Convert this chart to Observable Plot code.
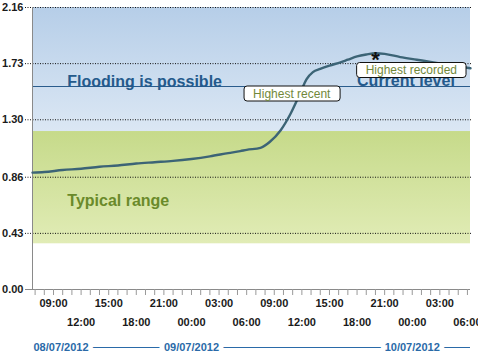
<!DOCTYPE html>
<html>
<head>
<meta charset="utf-8">
<script src="https://cdn.jsdelivr.net/npm/d3@7"></script>
<script src="https://cdn.jsdelivr.net/npm/@observablehq/plot@0.6"></script>
<style>
  html, body { margin: 0; padding: 0; background: #fff; }
  #chart svg { display: block; background: linear-gradient(to right, #ffffff 470px, #e8ecf0 470px); }
</style>
</head>
<body>
<div id="chart"></div>
<script>
// ---- data ----
const levelTimes = [
  "2012-07-08T06:43","2012-07-08T08:00","2012-07-08T10:00","2012-07-08T12:00","2012-07-08T14:00",
  "2012-07-08T16:00","2012-07-08T18:00","2012-07-08T20:00","2012-07-08T22:00","2012-07-09T00:00",
  "2012-07-09T02:00","2012-07-09T04:00","2012-07-09T05:18","2012-07-09T06:00","2012-07-09T07:30",
  "2012-07-09T08:30","2012-07-09T09:42","2012-07-09T10:48","2012-07-09T11:48","2012-07-09T12:30",
  "2012-07-09T13:12","2012-07-09T14:00","2012-07-09T15:00","2012-07-09T16:12","2012-07-09T17:00",
  "2012-07-09T18:00","2012-07-09T19:00","2012-07-09T20:00","2012-07-09T21:00","2012-07-09T22:42",
  "2012-07-10T00:30","2012-07-10T02:18","2012-07-10T04:00","2012-07-10T06:20"
];
const levelValues = [
  0.895, 0.90, 0.915, 0.925, 0.94,
  0.95, 0.965, 0.975, 0.985, 1.00,
  1.02, 1.045, 1.06, 1.07, 1.085,
  1.13, 1.22, 1.35, 1.50, 1.61,
  1.665, 1.69, 1.715, 1.74, 1.76,
  1.785, 1.80, 1.81, 1.805, 1.78,
  1.76, 1.74, 1.72, 1.695
];
const xDomain = ["2012-07-08T06:43", "2012-07-10T06:20"];
const yTicks = [0.00, 0.43, 0.86, 1.30, 1.73, 2.16];
const tickRow1 = ["2012-07-08T09:00","2012-07-08T15:00","2012-07-08T21:00","2012-07-09T03:00",
                  "2012-07-09T09:00","2012-07-09T15:00","2012-07-09T21:00","2012-07-10T03:00"];
const tickRow2 = ["2012-07-08T12:00","2012-07-08T18:00","2012-07-09T00:00","2012-07-09T06:00",
                  "2012-07-09T12:00","2012-07-09T18:00","2012-07-10T00:00","2012-07-10T06:00"];
const dateLabels = ["08/07/2012", "09/07/2012", "10/07/2012"];
const dateTimes  = ["2012-07-08T06:43", "2012-07-09T00:00", "2012-07-10T00:00"];
const bandNames  = ["Flooding is possible", "Typical range"];
const bandLow    = [1.21, 0.35];
const bandHigh   = [2.16, 1.21];
const floodLevel = 1.555;
const bandTexts  = ["Flooding is possible", "Current level", "Typical range"];
const bandTextTimes = ["2012-07-08T10:30", "2012-07-09T18:00", "2012-07-08T10:30"];
const bandTextValues = [1.593, 1.60, 0.682];
const annoTexts  = ["Highest recent", "Highest recorded"];
const annoTimes  = ["2012-07-09T10:54", "2012-07-09T23:54"];
const annoValues = [1.50, 1.68];
const peakTime = "2012-07-09T20:00";
const peakValue = 1.81;

// ---- build tables ----
const T = s => new Date(s + ":00Z");
const series = levelTimes.map((t, i) => ({t: T(t), v: levelValues[i]}));
const [x0, x1] = xDomain.map(T);
const bands = bandNames.map((n, i) => ({name: n, y1: bandLow[i], y2: bandHigh[i], fill: i === 0 ? "url(#gBlue)" : "url(#gGreen)"}));
const fmt = d3.utcFormat("%H:%M");
const hours = d3.utcHours(x0, x1);
const font = "'Liberation Sans', Arial, sans-serif";
const zero = () => 0;
const dates = dateLabels.map((d, i) => ({label: d, t: T(dateTimes[i])}));
const dateStyle = {y: zero, text: "label", dy: 58, fontSize: 11, fontWeight: "bold", fill: "#2a6aa8", stroke: "white", strokeWidth: 10};

const chart = Plot.plot({
  width: 478, height: 354,
  marginLeft: 32, marginRight: 8, marginTop: 7, marginBottom: 65,
  style: {fontFamily: font, background: "transparent", overflow: "visible"},
  x: {type: "utc", domain: [x0, x1], axis: null},
  y: {type: "linear", domain: [0, 2.16], axis: null},
  marks: [
    Plot.rect(bands, {x1: () => x0, x2: () => x1, y1: "y1", y2: "y2", fill: "fill"}),
    Plot.ruleY(yTicks.filter(d => d > 0), {stroke: "#111", strokeDasharray: "1,1.5", strokeWidth: 1, insetLeft: -7, insetRight: -2}),
    Plot.ruleY([floodLevel], {stroke: "#2a5c8c", strokeWidth: 1.2}),
    Plot.ruleX([x0], {stroke: "#8a8a8a"}),
    Plot.ruleY([0], {stroke: "#8a8a8a", insetLeft: -7}),
    Plot.ruleX(hours, {x: d => d, y1: zero, y2: zero, insetBottom: -6, stroke: "#999", strokeWidth: 1}),
    Plot.line(series, {x: "t", y: "v", stroke: "#3c6476", strokeWidth: 2.4, curve: "monotone-x"}),
    Plot.text(bandTexts, {x: (d, i) => T(bandTextTimes[i]), y: (d, i) => bandTextValues[i], text: d => d,
      textAnchor: "start", fontSize: 16, fontWeight: "bold",
      fill: (d, i) => i === 2 ? "#6a8a2a" : "#245a8c"}),
    Plot.text(annoTexts, {x: (d, i) => T(annoTimes[i]), y: (d, i) => annoValues[i], text: d => d,
      fontSize: 12, fill: "#72883a"}),
    Plot.text(["*"], {x: () => T(peakTime), y: () => peakValue, text: d => d, fontSize: 22, fontWeight: "bold", fill: "#111", dy: 7}),
    // y axis labels
    Plot.text(yTicks, {x: () => x0, y: d => d, text: d => d.toFixed(2), textAnchor: "end", dx: -9,
      fontSize: 11, fontWeight: "bold", fill: "#1a1a1a"}),
    // x tick labels, two rows
    Plot.text(tickRow1, {x: d => T(d), y: zero, text: d => fmt(T(d)), dy: 14, fontSize: 11, fontWeight: "bold", fill: "#1a1a1a"}),
    Plot.text(tickRow2, {x: d => T(d), y: zero, text: d => fmt(T(d)), dy: 33, fontSize: 11, fontWeight: "bold", fill: "#1a1a1a"}),
    // date row
    Plot.ruleY([0], {x1: () => x0, x2: () => x1, dy: 58, stroke: "#2a6aa8", strokeWidth: 1}),
    Plot.text(dates.slice(0, 1), {...dateStyle, x: "t", textAnchor: "start", dx: 1}),
    Plot.text(dates.slice(1), {...dateStyle, x: "t"})
  ]
});

// gradient defs
const svgNS = "http://www.w3.org/2000/svg";
const defs = document.createElementNS(svgNS, "defs");
defs.innerHTML = `
  <linearGradient id="gBlue" x1="0" y1="0" x2="0" y2="1">
    <stop offset="0" stop-color="#b6cee8"/><stop offset="1" stop-color="#dbe7f4"/>
  </linearGradient>
  <linearGradient id="gGreen" x1="0" y1="0" x2="0" y2="1">
    <stop offset="0" stop-color="#c6da8a"/><stop offset="1" stop-color="#e1ecb6"/>
  </linearGradient>`;
chart.insertBefore(defs, chart.firstChild);
document.getElementById("chart").append(chart);

// boxes behind annotation labels
chart.querySelectorAll("text").forEach(t => {
  if (!annoTexts.includes(t.textContent)) return;
  const b = t.getBBox();
  const r = document.createElementNS(svgNS, "rect");
  const padX = 9, padY = 0.5;
  r.setAttribute("x", b.x - padX);
  r.setAttribute("y", b.y - padY);
  r.setAttribute("width", b.width + 2 * padX);
  r.setAttribute("height", b.height + 2 * padY);
  r.setAttribute("rx", 3);
  r.setAttribute("fill", "white");
  r.setAttribute("stroke", "#111");
  r.setAttribute("stroke-width", 1);
  const tr = t.getAttribute("transform");
  if (tr) r.setAttribute("transform", tr);
  t.parentNode.insertBefore(r, t);
});
</script>
</body>
</html>
